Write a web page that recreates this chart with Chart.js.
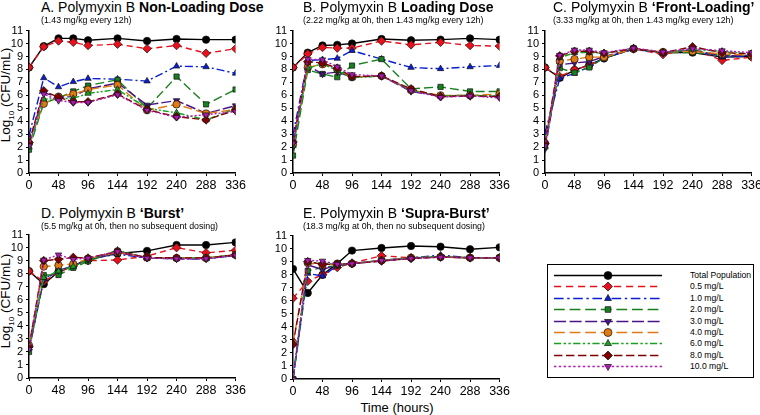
<!DOCTYPE html>
<html lang="en">
<head>
  <meta charset="UTF-8" />
  <title>Polymyxin B dosing regimens</title>
  <script src="https://cdn.jsdelivr.net/npm/chart.js"></script>
  <style>
    body {
      margin: 0;
      background: #fff;
      font-family: "Liberation Sans", Arial, sans-serif;
      color: #000;
    }
    #wrap {
      position: relative;
      width: 760px;
      height: 415px;
      overflow: hidden;
    }
    canvas.panel { position: absolute; }
    .title {
      position: absolute;
      font-size: 14px;
      white-space: nowrap;
      line-height: 1;
      z-index: 2;
    }
    .sub {
      position: absolute;
      font-size: 8.8px;
      white-space: nowrap;
      line-height: 1;
      z-index: 2;
    }
    .ylab {
      position: absolute;
      font-size: 13.5px;
      white-space: nowrap;
      transform: translate(-50%, -50%) rotate(-90deg);
    }
    .ylab sub { font-size: 8px; }
    #xlab {
      position: absolute;
      left: 397px;
      top: 400px;
      transform: translateX(-50%);
      font-size: 13px;
    }
    #legend {
      position: absolute;
      left: 547px;
      top: 264px;
      width: 205px;
      height: 112px;
      border: 1px solid #000;
    }
    .row {
      position: absolute;
      left: 0;
      height: 11px;
      font-size: 8.6px;
    }
    .row canvas { position: absolute; left: 4px; top: 0; }
    .row span { position: absolute; left: 142px; top: 0; line-height: 11px; white-space: nowrap; }
  </style>
</head>
<body>
<div id="wrap">
  <div class="title" style="left:41px;top:0px">A. Polymyxin B <b>Non-Loading Dose</b></div>
  <div class="sub" style="left:41px;top:16px">(1.43 mg/kg every 12h)</div>
  <div class="title" style="left:303px;top:0px">B. Polymyxin B <b>Loading Dose</b></div>
  <div class="sub" style="left:303px;top:16px">(2.22 mg/kg at 0h, then 1.43 mg/kg every 12h)</div>
  <div class="title" style="left:553px;top:0px">C. Polymyxin B <b>‘Front-Loading’</b></div>
  <div class="sub" style="left:553px;top:16px">(3.33 mg/kg at 0h, then 1.43 mg/kg every 12h)</div>
  <div class="title" style="left:41px;top:206px">D. Polymyxin B <b>‘Burst’</b></div>
  <div class="sub" style="left:41px;top:222px">(5.5 mg/kg at 0h, then no subsequent dosing)</div>
  <div class="title" style="left:303px;top:206px">E. Polymyxin B <b>‘Supra-Burst’</b></div>
  <div class="sub" style="left:303px;top:222px">(18.3 mg/kg at 0h, then no subsequent dosing)</div>
  <div class="ylab" style="left:7px;top:95px">Log<sub>10</sub> (CFU/mL)</div>
  <div class="ylab" style="left:7px;top:301px">Log<sub>10</sub> (CFU/mL)</div>
  <div id="xlab">Time (hours)</div>
  <div id="legend"></div>
</div>

<script>
  // sampling times (hours)
  const hours = [0, 24, 48, 72, 96, 144, 192, 240, 288, 336];

  const seriesLabels = ["Total Population", "0.5 mg/L", "1.0 mg/L", "2.0 mg/L", "3.0 mg/L",
                        "4.0 mg/L", "6.0 mg/L", "8.0 mg/L", "10.0 mg/L"];

  // log10 CFU/mL, one row per series (same order as seriesLabels)
  const nonLoading = [
    [8.15, 9.8, 10.4, 10.4, 10.25, 10.4, 10.2, 10.35, 10.3, 10.3],
    [8.15, 9.75, 10.2, 10.1, 9.85, 9.95, 9.6, 9.85, 9.25, 9.6],
    [2.9, 7.35, 6.65, 7.05, 7.3, 7.25, 7.1, 8.25, 8.2, 7.7],
    [1.8, 5.4, 5.8, 6.3, 6.75, 7.2, 5.0, 7.45, 5.3, 6.45],
    [2.2, 6.2, 5.85, 5.9, 6.5, 6.95, 5.25, 5.6, 4.6, 5.2],
    [2.3, 5.35, 5.9, 6.1, 6.45, 6.8, 4.85, 5.3, 4.6, 4.9],
    [2.0, 5.7, 5.75, 5.75, 6.15, 6.45, 5.0, 4.65, 4.1, 4.95],
    [2.35, 6.35, 5.85, 5.5, 5.5, 6.1, 4.9, 4.35, 4.1, 4.85],
    [2.1, 6.1, 5.6, 5.45, 5.45, 6.05, 4.85, 4.3, 4.5, 4.75]
  ];

  const loadingDose = [
    [8.15, 9.3, 9.85, 9.9, 10.0, 10.35, 10.25, 10.3, 10.4, 10.3],
    [8.15, 9.2, 9.7, 9.65, 9.65, 10.2, 9.9, 10.1, 9.85, 9.8],
    [2.95, 8.7, 8.75, 8.85, 9.45, 8.8, 8.15, 8.05, 8.2, 8.3],
    [1.35, 7.95, 7.65, 7.4, 8.3, 8.8, 6.5, 6.65, 6.3, 6.3],
    [2.0, 8.3, 7.65, 7.8, 7.4, 7.5, 6.3, 5.95, 6.0, 5.9],
    [2.2, 8.15, 8.4, 8.0, 7.4, 7.5, 6.4, 6.0, 6.0, 6.1],
    [2.1, 8.1, 8.45, 7.9, 7.35, 7.5, 6.4, 5.95, 6.0, 5.95],
    [2.4, 8.6, 8.5, 8.1, 7.45, 7.5, 6.5, 5.9, 5.95, 5.9],
    [2.3, 8.8, 8.75, 8.2, 7.6, 7.5, 6.35, 5.85, 5.95, 5.8]
  ];

  const frontLoading = [
    [8.15, 7.35, 7.95, 8.35, 8.85, 9.6, 9.3, 9.3, 8.95, 9.0],
    [8.15, 7.45, 8.0, 8.3, 8.9, 9.6, 9.15, 9.6, 8.7, 8.95],
    [3.1, 7.3, 7.7, 8.2, 8.9, 9.55, 9.3, 9.45, 8.95, 9.05],
    [2.1, 8.1, 7.75, 8.15, 8.9, 9.6, 9.3, 9.3, 9.1, 9.1],
    [1.85, 8.35, 8.5, 8.6, 9.0, 9.6, 9.3, 9.5, 9.05, 9.1],
    [2.3, 8.65, 8.8, 8.95, 8.95, 9.6, 9.35, 9.4, 9.2, 9.1],
    [2.0, 8.9, 9.3, 9.3, 9.25, 9.6, 9.3, 9.55, 9.4, 9.2],
    [2.3, 9.05, 9.4, 9.4, 9.25, 9.6, 9.3, 9.75, 9.3, 9.2],
    [2.1, 9.1, 9.5, 9.5, 9.3, 9.65, 9.35, 9.6, 9.45, 9.3]
  ];

  const burst = [
    [8.2, 7.2, 8.15, 8.6, 9.1, 9.55, 9.75, 10.2, 10.2, 10.4],
    [8.2, 7.4, 8.1, 8.6, 9.0, 9.05, 9.35, 10.0, 9.6, 9.8],
    [2.3, 7.6, 8.2, 8.6, 9.1, 9.5, 9.2, 9.15, 9.15, 9.4],
    [2.0, 7.9, 7.9, 8.45, 8.95, 9.75, 9.2, 9.2, 9.2, 9.45],
    [2.2, 7.5, 8.25, 8.6, 9.1, 9.6, 9.2, 9.15, 9.15, 9.4],
    [2.5, 8.55, 8.65, 8.75, 9.15, 9.65, 9.25, 9.2, 9.2, 9.45],
    [2.3, 7.7, 8.2, 8.55, 9.05, 9.8, 9.2, 9.2, 9.2, 9.45],
    [2.4, 9.0, 9.1, 9.25, 9.2, 9.7, 9.25, 9.2, 9.2, 9.45],
    [2.2, 9.05, 9.45, 9.1, 9.2, 9.7, 9.2, 9.15, 9.15, 9.4]
  ];

  const supraBurst = [
    [8.45, 6.6, 8.0, 8.85, 9.85, 10.05, 10.2, 10.15, 9.95, 10.1],
    [6.2, 7.5, 8.0, 8.55, 8.9, 9.45, 9.3, 9.4, 9.3, 9.3],
    [0, 8.1, 7.9, 8.7, 8.85, 9.1, 9.3, 9.5, 9.3, 9.3],
    [0, 8.3, 8.55, 8.7, 8.85, 9.1, 9.3, 9.35, 9.3, 9.3],
    [0, 8.75, 8.4, 8.75, 8.85, 9.05, 9.25, 9.35, 9.3, 9.25],
    [2.8, 8.9, 8.75, 8.8, 8.85, 9.1, 9.3, 9.35, 9.3, 9.3],
    [0, 8.95, 8.9, 8.8, 8.85, 9.1, 9.3, 9.4, 9.3, 9.3],
    [2.65, 9.0, 8.8, 8.8, 8.85, 9.05, 9.25, 9.35, 9.3, 9.3],
    [0, 9.1, 9.05, 8.8, 8.85, 9.1, 9.25, 9.35, 9.3, 9.3]
  ];

  // line + marker look for each series
  const styles = [
    { color: "#000000", dash: [],                 point: "circle",   rot: 0 },
    { color: "#e8101a", dash: [6, 4],             point: "rectRot",  rot: 0 },
    { color: "#0a1ecf", dash: [8, 3, 2, 3],       point: "triangle", rot: 0 },
    { color: "#17801f", dash: [9, 4],             point: "rect",     rot: 0 },
    { color: "#4a1488", dash: [10, 3],            point: "triangle", rot: 180 },
    { color: "#e07a12", dash: [9, 4],             point: "circle",   rot: 0 },
    { color: "#18a11e", dash: [6, 2, 2, 2, 2, 2], point: "triangle", rot: 0 },
    { color: "#800000", dash: [7, 3],             point: "rectRot",  rot: 0 },
    { color: "#b01ab8", dash: [2, 2],             point: "triangle", rot: 180 }
  ];

  const panels = [
    { data: nonLoading,   left: 29,  top: 29,  right: 236, bottom: 173 },
    { data: loadingDose,  left: 293, top: 29,  right: 500, bottom: 173 },
    { data: frontLoading, left: 545, top: 29,  right: 752, bottom: 173 },
    { data: burst,        left: 29,  top: 233, right: 236, bottom: 378 },
    { data: supraBurst,   left: 293, top: 234, right: 500, bottom: 379 }
  ];

  const Y_AXIS_W = 29, PAD_TOP = 8, PAD_RIGHT = 12, X_AXIS_H = 22;
  const wrap = document.getElementById("wrap");

  panels.forEach(p => {
    const cv = document.createElement("canvas");
    cv.className = "panel";
    const w = (p.right - p.left) + Y_AXIS_W + PAD_RIGHT;
    const h = (p.bottom - p.top) + PAD_TOP + X_AXIS_H;
    cv.width = w; cv.height = h;
    cv.style.left = (p.left - Y_AXIS_W) + "px";
    cv.style.top = (p.top - PAD_TOP) + "px";
    cv.style.width = w + "px"; cv.style.height = h + "px";
    wrap.appendChild(cv);

    new Chart(cv.getContext("2d"), {
      type: "line",
      data: {
        datasets: p.data.map((vals, i) => ({
          label: seriesLabels[i],
          data: vals.map((v, j) => ({ x: hours[j], y: v })),
          borderColor: styles[i].color,
          borderWidth: 1.4,
          borderDash: styles[i].dash,
          pointStyle: styles[i].point,
          pointRotation: styles[i].rot,
          pointRadius: styles[i].point === "rectRot" ? 4.3 : 3.7,
          pointBackgroundColor: styles[i].color,
          pointBorderColor: "#111",
          pointBorderWidth: 0.7,
          tension: 0,
          order: 10 - i
        }))
      },
      options: {
        responsive: false,
        animation: false,
        events: [],
        layout: { padding: { top: PAD_TOP, right: PAD_RIGHT, left: 0, bottom: 0 } },
        plugins: { legend: { display: false }, tooltip: { enabled: false } },
        scales: {
          x: {
            type: "linear",
            min: 0, max: 336,
            afterFit: s => { s.height = X_AXIS_H; },
            ticks: { stepSize: 48, autoSkip: false, color: "#000", font: { family: "Liberation Sans", size: 12.5 }, padding: 2, maxRotation: 0 },
            grid: { drawOnChartArea: false, color: "#000", tickLength: 3 },
            border: { color: "#000", width: 1.5 }
          },
          y: {
            min: 0, max: 11,
            afterFit: s => { s.width = Y_AXIS_W; },
            ticks: { stepSize: 1, autoSkip: false, color: "#000", font: { family: "Liberation Sans", size: 11 }, padding: 3 },
            grid: { drawOnChartArea: false, color: "#000", tickLength: 3 },
            border: { color: "#000", width: 1.5 }
          }
        }
      }
    });
  });

  // legend: line sample with marker in the middle, then label
  const legend = document.getElementById("legend");
  seriesLabels.forEach((lab, i) => {
    const row = document.createElement("div");
    row.className = "row";
    row.style.top = (5 + i * 11.4) + "px";
    row.style.width = "205px";
    const c = document.createElement("canvas");
    c.width = 112; c.height = 11;
    const g = c.getContext("2d");
    const st = styles[i];
    g.strokeStyle = st.color;
    g.lineWidth = 1.4;
    g.setLineDash(st.dash.length ? st.dash.map(d => d * 1.2) : []);
    g.beginPath(); g.moveTo(2, 5.5); g.lineTo(110, 5.5); g.stroke();
    g.setLineDash([]);
    g.save();
    g.lineWidth = 0.7;
    g.strokeStyle = "#111";
    g.fillStyle = st.color;
    Chart.helpers.drawPoint(g, {
      pointStyle: st.point, rotation: st.rot,
      radius: st.point === "rectRot" ? 4.5 : 4, borderWidth: 0.7
    }, 56, 5.5);
    g.restore();
    const span = document.createElement("span");
    span.textContent = lab;
    row.appendChild(c);
    row.appendChild(span);
    legend.appendChild(row);
  });
</script>
</body>
</html>
